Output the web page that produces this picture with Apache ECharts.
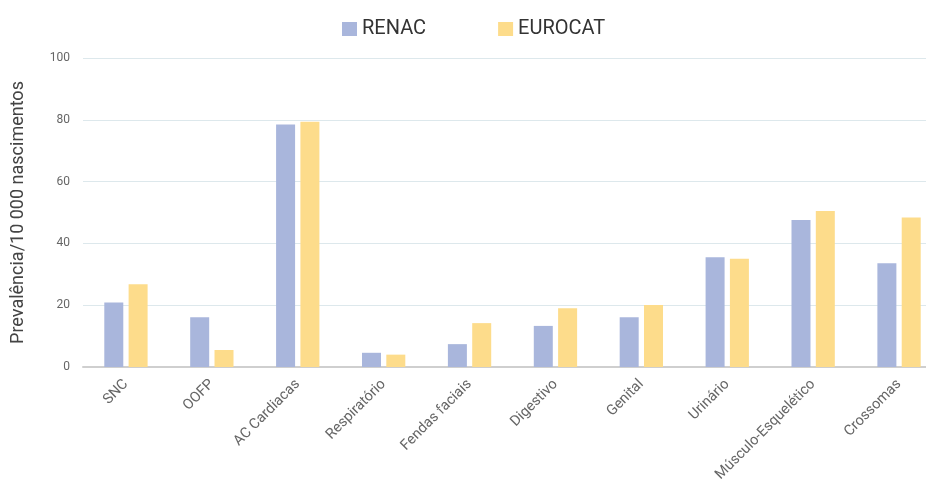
<!DOCTYPE html>
<html>
<head>
<meta charset="utf-8">
<script src="https://cdn.jsdelivr.net/npm/echarts@6/dist/echarts.min.js"></script>
<style>
  html, body { margin: 0; padding: 0; background: #fff; }
  #chart { width: 926px; height: 493px; }
</style>
</head>
<body>
<div id="chart"></div>
<script>
// Prevalência de anomalias congénitas por grupo (por 10 000 nascimentos)
const categories = ['SNC', 'OOFP', 'AC Cardiacas', 'Respiratório', 'Fendas faciais',
  'Digestivo', 'Genital', 'Urinário', 'Músculo-Esquelético', 'Crossomas'];
const renac   = [20.9, 16.1, 78.5, 4.6, 7.4, 13.3, 16.1, 35.5, 47.6, 33.6];
const eurocat = [26.8, 5.5, 79.4, 4.0, 14.2, 19.0, 20.1, 35.0, 50.5, 48.4];
const yTicks = { min: 0, max: 100, interval: 20 };

const FONT = 'Roboto, "Liberation Sans", sans-serif';
const chart = echarts.init(document.getElementById('chart'), null, { renderer: 'canvas' });

chart.setOption({
  animation: false,
  textStyle: { fontFamily: FONT },
  legend: {
    left: 337, top: 14,
    itemWidth: 15, itemHeight: 14, itemGap: 72,
    icon: 'rect',
    textStyle: { fontSize: 20, color: '#333', fontFamily: FONT },
    data: ['RENAC', 'EUROCAT']
  },
  // plot area runs slightly past the right edge of the canvas
  grid: { left: 83, top: 58, width: 859, height: 309, containLabel: false, outerBoundsMode: 'none' },
  xAxis: {
    type: 'category',
    data: categories,
    axisLine: { lineStyle: { color: '#cfcfcf', width: 2 } },
    axisTick: { show: false },
    axisLabel: { rotate: 45, fontSize: 14.5, color: '#666', margin: 15, interval: 0, fontFamily: FONT }
  },
  yAxis: {
    type: 'value',
    min: yTicks.min, max: yTicks.max, interval: yTicks.interval,
    name: 'Prevalência/10 000 nascimentos',
    nameLocation: 'middle',
    nameGap: 56,
    nameTextStyle: { fontSize: 18, color: '#444', fontFamily: FONT },
    axisLine: { show: false },
    axisTick: { show: false },
    axisLabel: { fontSize: 12, color: '#666', margin: 13, fontFamily: FONT },
    splitLine: { lineStyle: { color: '#dde8ec', width: 1 } }
  },
  series: [
    {
      name: 'RENAC', type: 'bar', data: renac,
      barWidth: 19, barGap: '28%',
      itemStyle: { color: '#a9b6dc' }
    },
    {
      name: 'EUROCAT', type: 'bar', data: eurocat,
      barWidth: 19,
      itemStyle: { color: '#fddc8b' }
    }
  ]
});
</script>
</body>
</html>
